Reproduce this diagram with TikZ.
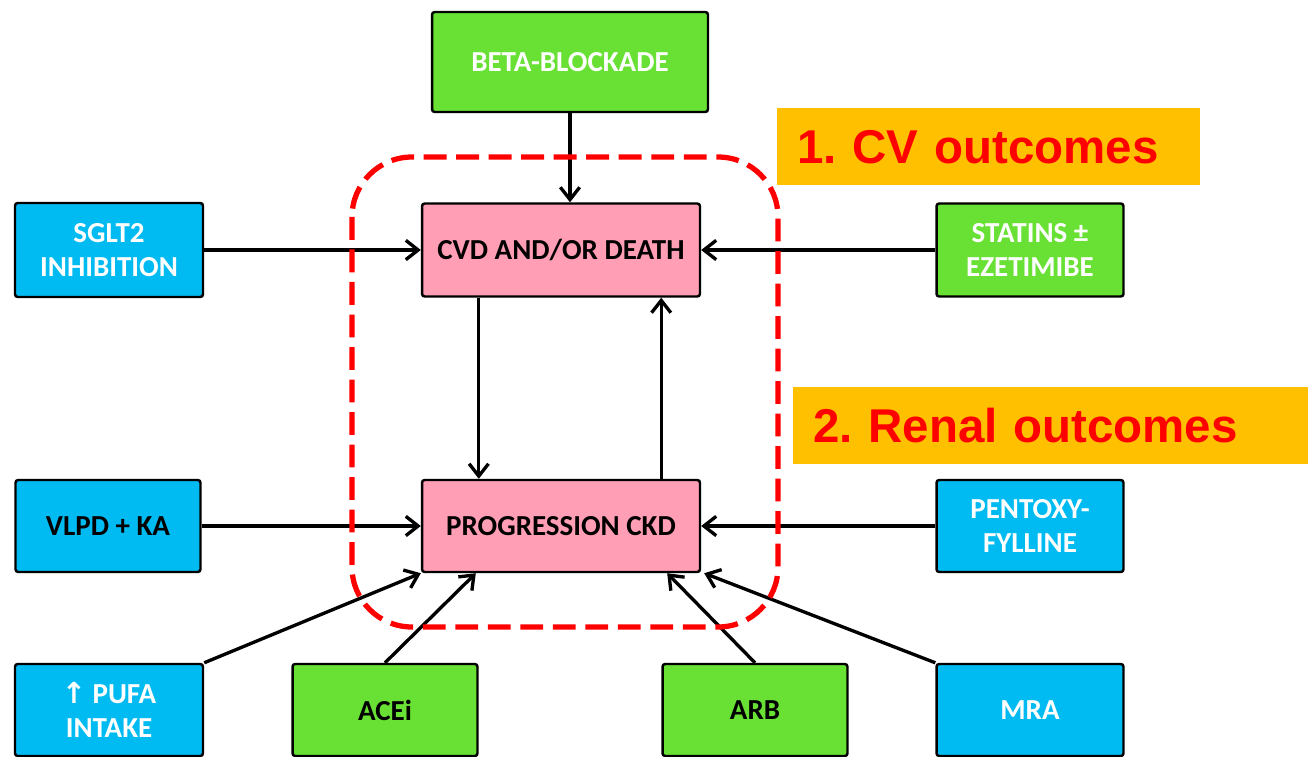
\documentclass[tikz,border=0pt]{standalone}
\usepackage{fontspec}
\setmainfont{Carlito}
\newfontfamily\labelfont{Liberation Sans}
\newfontfamily\arrowfont{DejaVu Sans}
\definecolor{boxgreen}{RGB}{104,224,52}
\definecolor{boxblue}{RGB}{0,187,242}
\definecolor{boxpink}{RGB}{255,158,181}
\definecolor{tagorange}{RGB}{255,192,0}
\usetikzlibrary{arrows.meta,positioning,calc}
\frenchspacing

\begin{document}
\begin{tikzpicture}[x=0.02cm,y=-0.02cm,
        drug/.style={draw=black,line width=1.4pt,rounded corners=1.5pt,align=center,
            font=\fontsize{16.5}{19.5}\selectfont\bfseries,inner sep=0pt},
        greendrug/.style={drug,fill=boxgreen,text=white},
        bluedrug/.style={drug,fill=boxblue,text=white},
        outcome/.style={drug,fill=boxpink,text=black,minimum width=5.56cm,minimum height=1.86cm},
        tag/.style={fill=tagorange,text=red,font=\labelfont\fontsize{27}{32}\selectfont\bfseries,
            align=left,inner xsep=0.4cm,inner ysep=0pt,minimum height=1.54cm,anchor=north west},
        arr/.style={line width=1.9pt,-{Straight Barb[length=7pt,width=11pt]}}]
    \useasboundingbox (0,0) rectangle (1308,757);
    % outcomes
    \node[outcome] (cvd) at (561,250) {CVD AND/OR DEATH};
    \node[outcome,minimum height=1.84cm] (ckd) at (561,526) {PROGRESSION CKD};
    % treatments
    \node[greendrug,minimum width=5.52cm,minimum height=2cm] (beta) at (570,62) {BETA-BLOCKADE};
    \node[bluedrug,minimum width=3.76cm,minimum height=1.88cm] (sglt) at (109,250) {SGLT2\\INHIBITION};
    \node[greendrug,minimum width=3.74cm,minimum height=1.86cm] (statin) at (1030,250) {STATINS ±\\EZETIMIBE};
    \node[bluedrug,text=black,minimum width=3.7cm,minimum height=1.84cm] (vlpd) at (108,526) {VLPD + KA};
    \node[bluedrug,minimum width=3.74cm,minimum height=1.84cm] (pentox) at (1030,526) {PENTOXY-\\FYLLINE};
    \node[bluedrug,minimum width=3.76cm,minimum height=1.84cm] (pufa) at (109,710) {{\arrowfont↑} PUFA\\INTAKE};
    \node[greendrug,text=black,minimum width=3.7cm,minimum height=1.84cm] (acei) at (385,710) {ACEi};
    \node[greendrug,text=black,minimum width=3.7cm,minimum height=1.84cm] (arb) at (755,710) {ARB};
    \node[bluedrug,minimum width=3.74cm,minimum height=1.84cm] (mra) at (1030,710) {MRA};
    % links
    \draw[arr] (beta.south) -- (beta.south |- cvd.north);
    \draw[arr] (sglt) -- (cvd);
    \draw[arr] (statin) -- (cvd);
    \draw[arr] ([xshift=1.16cm]cvd.south west) -- ([xshift=1.16cm]ckd.north west);
    \draw[arr] ([xshift=-0.8cm]ckd.north east) -- ([xshift=-0.8cm]cvd.south east);
    \draw[arr] (vlpd) -- (ckd);
    \draw[arr] (pentox) -- (ckd);
    \draw[arr] (pufa.north east) -- (ckd.south west);
    \draw[arr] (acei.north) -- ([xshift=1.1cm]ckd.south west);
    \draw[arr] (arb.north) -- ([xshift=-0.68cm]ckd.south east);
    \draw[arr] (mra.north west) -- ([xshift=0.06cm]ckd.south east);
    % outcome tags
    \node[tag,text width=7.66cm] (cvtag) at (777,108) {1. CV outcomes};
    \node[tag,text width=9.5cm] (renaltag) at (793,387) {2. Renal outcomes};
    \draw[red,line width=3pt,dash pattern=on 13pt off 5.5pt,rounded corners=1.2cm]
        (352,157) rectangle (778,627);
\end{tikzpicture}
\end{document}
